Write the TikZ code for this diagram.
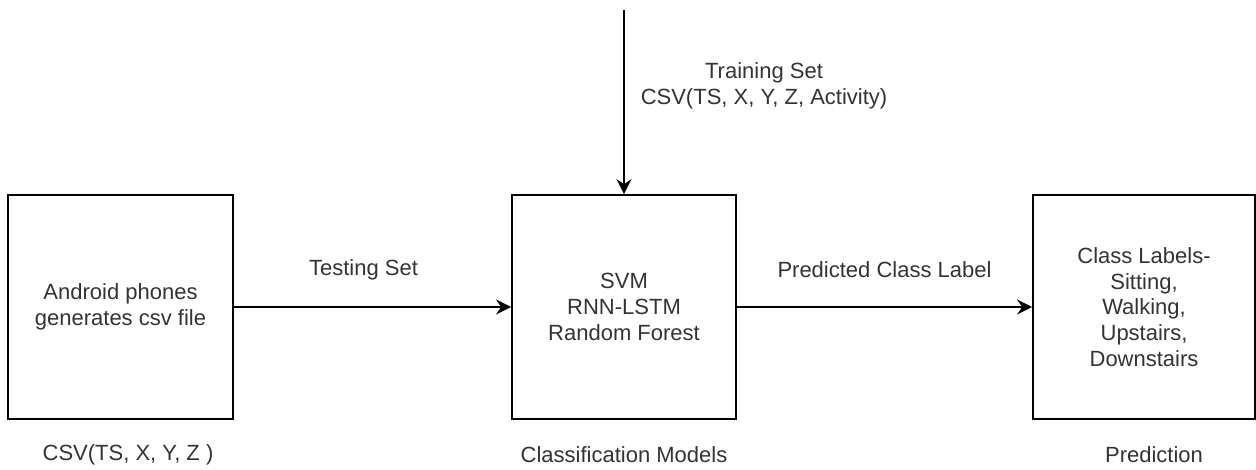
\documentclass[tikz,border=0pt]{standalone}
\usepackage{fontspec}
\setmainfont{Liberation Sans}
\usetikzlibrary{arrows.meta,positioning}

\begin{document}
\begin{tikzpicture}[x=0.5pt, y=-0.5pt,
	every node/.style={font=\fontsize{11}{12.9}\selectfont, text=black!80, align=center},
	blockbox/.style={draw, line width=0.9pt, minimum height=112pt, inner sep=0pt},
	flow/.style={-{Stealth[length=7.5pt, width=7.5pt, inset=2.5pt]}, line width=0.9pt}]
	\useasboundingbox (0,0) rectangle (1256,470);

	\node[blockbox, minimum width=112.5pt] (phone) at (120.5,307) {Android phones\\generates csv file};
	\node[blockbox, minimum width=112pt] (models) at (624,307) {SVM\\RNN-LSTM\\Random Forest};
	\node[blockbox, minimum width=111pt] (classes) at (1144,307) {Class Labels-\\Sitting,\\Walking,\\Upstairs,\\Downstairs};
	\coordinate (trainsrc) at (624,10);

	\draw[flow] (phone) -- node[midway, yshift=18.5pt, xshift=-4.5pt] {Testing Set} (models);
	\draw[flow] (models) -- node[midway, yshift=18.5pt] {Predicted Class Label} (classes);
	\draw[flow] (trainsrc) -- (models);

	% labels outside the boxes
	\node (trainlbl) at (764,86) {Training Set\\CSV(TS, X, Y, Z, Activity)};
	\node (phonelbl) at (128,455) {CSV(TS, X, Y, Z )};
	\node (modelslbl) at (624,455) {Classification Models};
	\node (classeslbl) at (1154,455) {Prediction};
\end{tikzpicture}
\end{document}
